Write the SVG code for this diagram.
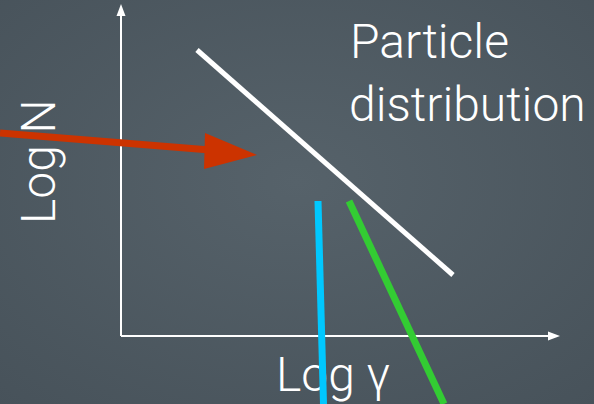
<svg xmlns="http://www.w3.org/2000/svg" width="594" height="404" viewBox="0 0 594 404">
<defs>
<style>
.lbl{font-family:Roboto,"Liberation Sans",sans-serif;font-weight:300;fill:#ffffff;font-size:48px}
.axis{stroke:#ffffff;stroke-width:2;fill:none}
</style>
<radialGradient id="bg" cx="50%" cy="45%" r="75%">
<stop offset="0" stop-color="#56626a"/>
<stop offset="1" stop-color="#47525a"/>
</radialGradient>
</defs>
<rect width="594" height="404" fill="url(#bg)"/>
<g id="axes">
<line class="axis" x1="121" y1="336" x2="121" y2="14"/>
<polygon points="121,4 116.5,16 125.5,16" fill="#fff"/>
<line class="axis" x1="121" y1="336" x2="550" y2="336"/>
<polygon points="560,336 548,331.5 548,340.5" fill="#fff"/>
</g>
<g id="label-logN"><text class="lbl" transform="translate(55,224) rotate(-90)">Log N</text></g>
<g id="label-particle"><text class="lbl" x="350" y="58">Particle</text><text class="lbl" x="349" y="121">distribution</text></g>
<g id="label-loggamma"><text class="lbl" x="276" y="391">Log γ</text></g>
<g id="connectors">
<line x1="197" y1="50" x2="453" y2="275" stroke="#fff" stroke-width="5"/>
<line x1="318" y1="201" x2="323.5" y2="404" stroke="#00c8ff" stroke-width="7"/>
<line x1="349" y1="201" x2="444" y2="404" stroke="#33cc33" stroke-width="7"/>
<line x1="0" y1="133" x2="210" y2="150" stroke="#cc3300" stroke-width="7"/>
<polygon points="257,155 205,133 204,169" fill="#cc3300"/>
</g>
</svg>
